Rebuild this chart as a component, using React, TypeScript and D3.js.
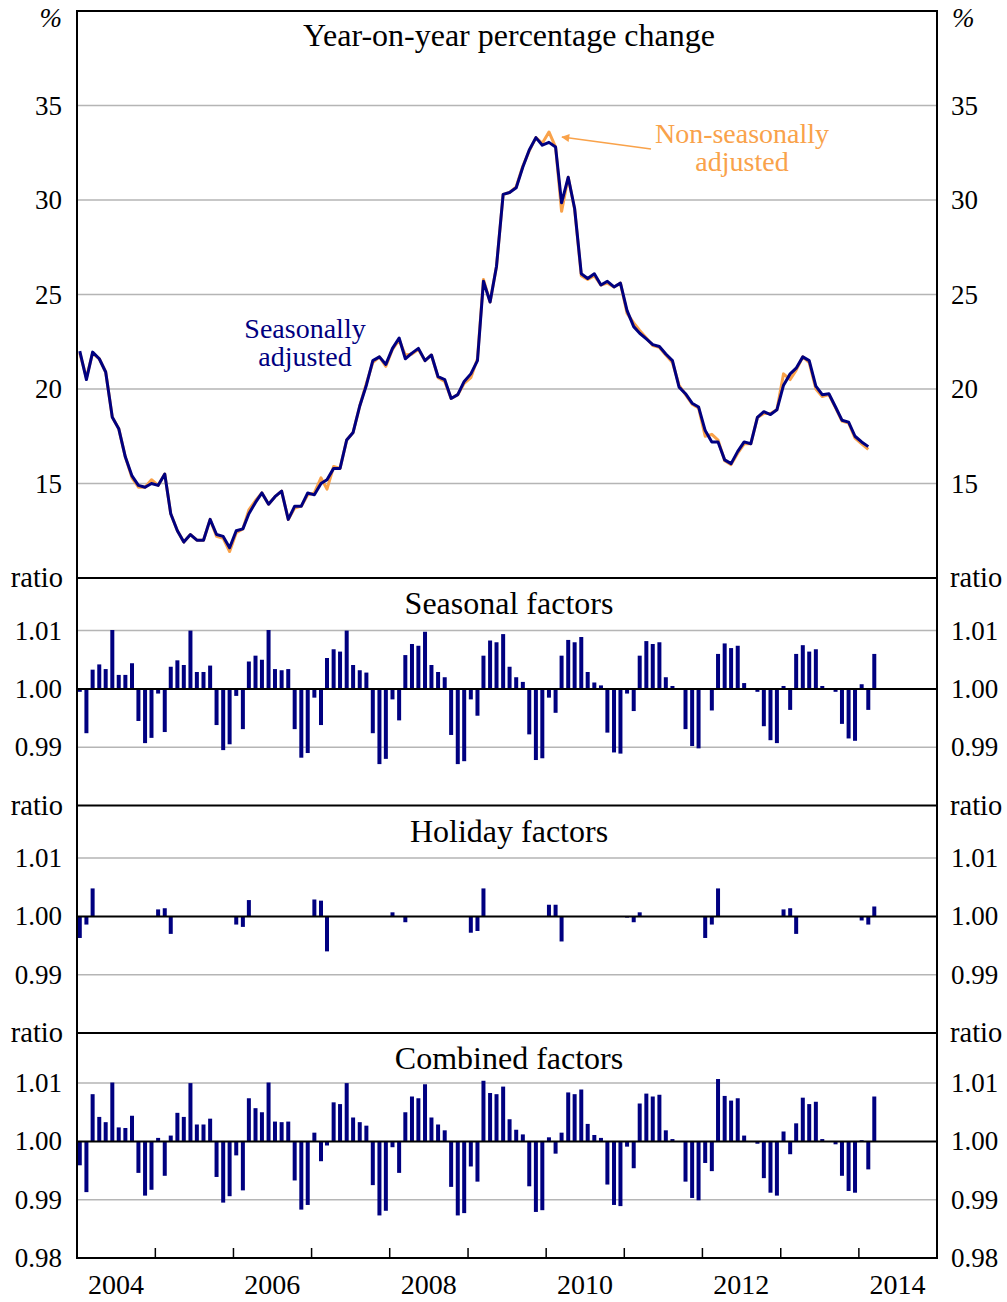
import { useRef, useEffect } from "react";
import * as d3 from "d3";

// monthly, Jan 2004 onwards
const yoySA = [
	22.0, 20.5, 21.95, 21.6, 20.9, 18.5, 17.9, 16.4, 15.4, 14.9, 14.8, 15.0,
	14.9, 15.5, 13.4, 12.5, 11.9, 12.3, 12.0, 12.0, 13.1, 12.3, 12.2, 11.6,
	12.5, 12.6, 13.4, 14.0, 14.5, 13.9, 14.3, 14.6, 13.1, 13.8, 13.8, 14.5,
	14.4, 15.0, 15.2, 15.8, 15.8, 17.3, 17.7, 19.1, 20.2, 21.5, 21.7, 21.3,
	22.15, 22.7, 21.6, 21.9, 22.15, 21.5, 21.8, 20.65, 20.5, 19.5, 19.7, 20.4,
	20.8, 21.5, 25.7, 24.6, 26.5, 30.3, 30.4, 30.65, 31.75, 32.65, 33.3, 32.9,
	33.05, 32.8, 29.85, 31.2, 29.55, 26.1, 25.85, 26.1, 25.5, 25.7, 25.4, 25.6,
	24.15, 23.3, 22.95, 22.65, 22.35, 22.25, 21.85, 21.5, 20.1, 19.75, 19.25, 19.05,
	17.8, 17.2, 17.2, 16.25, 16.05, 16.7, 17.2, 17.1, 18.5, 18.8, 18.65, 18.9,
	20.2, 20.8, 21.1, 21.7, 21.5, 20.15, 19.7, 19.75, 19.05, 18.35, 18.25, 17.5,
	17.2, 16.95,
];

const yoyNSA = [
	21.9, 20.6, 21.9, 21.6, 20.9, 18.5, 17.9, 16.4, 15.3, 14.8, 14.8, 15.2,
	14.9, 15.5, 13.4, 12.5, 11.9, 12.3, 12.0, 12.0, 13.1, 12.2, 12.1, 11.4,
	12.4, 12.6, 13.6, 14.1, 14.5, 13.9, 14.3, 14.6, 13.1, 13.7, 13.8, 14.4,
	14.5, 15.3, 14.7, 15.9, 15.8, 17.3, 17.7, 19.1, 20.3, 21.4, 21.7, 21.2,
	22.1, 22.6, 21.8, 21.85, 22.1, 21.5, 21.8, 20.6, 20.4, 19.5, 19.7, 20.3,
	20.6, 21.6, 25.8, 24.6, 26.5, 30.3, 30.4, 30.7, 31.8, 32.6, 33.3, 33.0,
	33.6, 32.8, 29.4, 31.2, 29.5, 26.0, 25.8, 26.0, 25.5, 25.6, 25.4, 25.6,
	24.0, 23.5, 23.1, 22.7, 22.3, 22.2, 21.8, 21.4, 20.2, 19.7, 19.2, 19.0,
	17.5, 17.6, 17.3, 16.2, 16.0, 16.6, 17.1, 17.1, 18.5, 18.7, 18.7, 18.9,
	20.8, 20.5, 21.0, 21.7, 21.4, 20.0, 19.6, 19.7, 19.0, 18.3, 18.2, 17.4,
	17.1, 16.8,
];

const seasonal = [
	0.9995, 0.9924, 1.0033, 1.0042, 1.0034, 1.0101, 1.0024, 1.0024, 1.0044, 0.9945, 0.9907, 0.9916,
	0.9992, 0.9926, 1.0038, 1.0049, 1.0041, 1.01, 1.0029, 1.0029, 1.004, 0.9938, 0.9895, 0.9905,
	0.9988, 0.9931, 1.0047, 1.0057, 1.005, 1.0101, 1.0034, 1.0032, 1.0034, 0.9931, 0.9882, 0.989,
	0.9985, 0.9938, 1.0053, 1.0068, 1.0064, 1.01, 1.0041, 1.0032, 1.0028, 0.9924, 0.9871, 0.988,
	0.9982, 0.9946, 1.0058, 1.0077, 1.0074, 1.0098, 1.0041, 1.0029, 1.002, 0.9921, 0.9871, 0.9876,
	0.9982, 0.9954, 1.0057, 1.0083, 1.008, 1.0094, 1.0038, 1.002, 1.0012, 0.9922, 0.9878, 0.9881,
	0.9985, 0.9959, 1.0057, 1.0084, 1.008, 1.0089, 1.0029, 1.0011, 1.0006, 0.9925, 0.9891, 0.9889,
	0.9992, 0.9962, 1.0057, 1.0082, 1.0077, 1.008, 1.002, 1.0005, 0.9999, 0.9931, 0.9902, 0.9898,
	1.0, 0.9963, 1.006, 1.0078, 1.007, 1.0074, 1.001, 1.0, 0.9995, 0.9936, 0.9912, 0.9907,
	1.0005, 0.9964, 1.006, 1.0075, 1.0064, 1.0068, 1.0005, 1.0, 0.9995, 0.994, 0.9915, 0.9911,
	1.0008, 0.9964, 1.006,
];

const holiday = [
	0.9963, 0.9986, 1.0048, 1, 1, 1, 1, 1, 1, 1, 1, 1,
	1.0012, 1.0014, 0.997, 1, 1, 1, 1, 1, 1, 1, 1, 1,
	0.9986, 0.9982, 1.0028, 1, 1, 1, 1, 1, 1, 1, 1, 1,
	1.0029, 1.0027, 0.994, 1, 1, 1, 1, 1, 1, 1, 1, 1,
	1.0007, 0.9999, 0.999, 1, 1, 1, 1, 1, 1, 1, 1, 1,
	0.9972, 0.9975, 1.0048, 1, 1, 1, 1, 1, 1, 1, 1, 1,
	1.002, 1.002, 0.9957, 1, 1, 1, 1, 1, 1, 1, 1, 1,
	0.9998, 0.999, 1.0007, 1, 1, 1, 1, 1, 1, 1, 1, 1,
	0.9963, 0.9986, 1.0048, 1, 1, 1, 1, 1, 1, 1, 1, 1,
	1.0012, 1.0014, 0.997, 1, 1, 1, 1, 1, 1, 1, 1, 1,
	0.9993, 0.9986, 1.0017,
];

const combined = [
	0.9959, 0.9913, 1.0081, 1.0042, 1.0033, 1.0101, 1.0024, 1.0023, 1.0044, 0.9946, 0.9907, 0.9917,
	1.0006, 0.9941, 1.001, 1.0049, 1.0042, 1.01, 1.0029, 1.0029, 1.0039, 0.9939, 0.9895, 0.9906,
	0.9976, 0.9916, 1.0074, 1.0057, 1.005, 1.0101, 1.0034, 1.0033, 1.0034, 0.9933, 0.9883, 0.9891,
	1.0015, 0.9966, 0.9993, 1.0067, 1.0064, 1.01, 1.0041, 1.0033, 1.0027, 0.9925, 0.9873, 0.9881,
	0.999, 0.9946, 1.005, 1.0077, 1.0074, 1.0098, 1.0041, 1.0029, 1.0019, 0.9922, 0.9873, 0.9877,
	0.9957, 0.9931, 1.0104, 1.0083, 1.0081, 1.0094, 1.0038, 1.002, 1.0012, 0.9923, 0.9879, 0.9882,
	1.0007, 0.9979, 1.0015, 1.0084, 1.0081, 1.0089, 1.003, 1.0011, 1.0006, 0.9926, 0.9891, 0.9889,
	0.9991, 0.9954, 1.0065, 1.0082, 1.0077, 1.008, 1.0019, 1.0004, 1.0, 0.9931, 0.9903, 0.9899,
	0.9963, 0.9949, 1.0107, 1.0078, 1.007, 1.0074, 1.001, 1.0, 0.9996, 0.9937, 0.9912, 0.9907,
	1.0017, 0.9978, 1.0031, 1.0075, 1.0064, 1.0068, 1.0004, 1.0, 0.9995, 0.9941, 0.9915, 0.9912,
	1.0002, 0.9952, 1.0077,
];

const topTicks = [15, 20, 25, 30, 35];
const ratioTicks = [0.99, 1.0, 1.01];
const yearLabels = [2004, 2006, 2008, 2010, 2012, 2014];

const NAVY = "#000080";
const ORANGE = "#f9a24a";
const GRID = "#b5b5b5";
const FONT = "'Liberation Serif', 'Times New Roman', serif";

export default function App() {
	const ref = useRef<SVGSVGElement>(null);

	useEffect(() => {
		document.body.style.margin = "0";
		const width = 1007;
		const height = 1302;
		const left = 77;
		const right = 937;
		const top = 11;

		const svg = d3.select(ref.current).attr("width", width).attr("height", height);
		svg.selectAll("*").remove();
		svg.style("font-family", FONT);

		const x = d3
			.scaleTime()
			.domain([new Date(2004, 0, 1), new Date(2015, 0, 1)])
			.range([left, right]);
		const monthDate = (i: number) => new Date(2004, i, 14);

		// ---- top panel ----
		const topBottom = 578;
		const y0 = d3.scaleLinear().domain([10, 40]).range([topBottom, top]);

		svg.append("g")
			.selectAll("line")
			.data(topTicks)
			.enter()
			.append("line")
			.attr("x1", left)
			.attr("x2", right)
			.attr("y1", (d) => y0(d))
			.attr("y2", (d) => y0(d))
			.attr("stroke", GRID)
			.attr("stroke-width", 1.5);

		const tickText = (g: any, vals: number[], scale: (v: number) => number, fmt: (v: number) => string) => {
			vals.forEach((v) => {
				g.append("text")
					.attr("x", 62)
					.attr("y", scale(v) + 9)
					.attr("text-anchor", "end")
					.attr("font-size", 27)
					.text(fmt(v));
				g.append("text")
					.attr("x", 951)
					.attr("y", scale(v) + 9)
					.attr("text-anchor", "start")
					.attr("font-size", 27)
					.text(fmt(v));
			});
		};

		const labels = svg.append("g");
		tickText(labels, topTicks, y0, (v) => String(v));
		labels.append("text").attr("x", 62).attr("y", 27).attr("text-anchor", "end").attr("font-size", 27).attr("font-style", "italic").text("%");
		labels.append("text").attr("x", 952).attr("y", 27).attr("text-anchor", "start").attr("font-size", 27).attr("font-style", "italic").text("%");

		svg.append("text")
			.attr("x", 509)
			.attr("y", 46)
			.attr("text-anchor", "middle")
			.attr("font-size", 32)
			.text("Year-on-year percentage change");

		const line = d3
			.line<number>()
			.x((d, i) => x(monthDate(i)))
			.y((d) => y0(d));

		svg.append("path")
			.attr("d", line(yoyNSA))
			.attr("fill", "none")
			.attr("stroke", ORANGE)
			.attr("stroke-width", 3)
			.attr("stroke-linejoin", "round");
		svg.append("path")
			.attr("d", line(yoySA))
			.attr("fill", "none")
			.attr("stroke", NAVY)
			.attr("stroke-width", 3)
			.attr("stroke-linejoin", "round");

		// annotations (one text per line)
		const noteLines = (lines: string[], cx: number, y1: number, color: string) => {
			lines.forEach((s, k) => {
				svg.append("text")
					.attr("x", cx)
					.attr("y", y1 + k * 28)
					.attr("text-anchor", "middle")
					.attr("font-size", 28)
					.attr("fill", color)
					.text(s);
			});
		};
		noteLines(["Seasonally", "adjusted"], 305, 338, NAVY);
		noteLines(["Non-seasonally", "adjusted"], 742, 143, ORANGE);

		svg.append("defs")
			.append("marker")
			.attr("id", "arrowHead")
			.attr("viewBox", "0 0 10 10")
			.attr("refX", 9)
			.attr("refY", 5)
			.attr("markerWidth", 9)
			.attr("markerHeight", 8)
			.attr("markerUnits", "userSpaceOnUse")
			.attr("orient", "auto")
			.append("path")
			.attr("d", "M0,0 L10,5 L0,10 z")
			.attr("fill", ORANGE);
		svg.append("line")
			.attr("x1", 651)
			.attr("y1", 149)
			.attr("x2", 562)
			.attr("y2", 137)
			.attr("stroke", ORANGE)
			.attr("stroke-width", 1.5)
			.attr("marker-end", "url(#arrowHead)");

		// ---- factor panels ----
		const panels = [
			{ title: "Seasonal factors", values: seasonal, bottom: 805.5 },
			{ title: "Holiday factors", values: holiday, bottom: 1033 },
			{ title: "Combined factors", values: combined, bottom: 1258 },
		];
		const perHundredth = 58.3;

		panels.forEach((p, pi) => {
			const y = d3
				.scaleLinear()
				.domain([0.98, 1.02])
				.range([p.bottom, p.bottom - perHundredth * 4]);
			const panelTop = pi === 0 ? topBottom : panels[pi - 1].bottom;
			const g = svg.append("g");

			g.selectAll("line.grid")
				.data([0.99, 1.01])
				.enter()
				.append("line")
				.attr("x1", left)
				.attr("x2", right)
				.attr("y1", (d) => y(d))
				.attr("y2", (d) => y(d))
				.attr("stroke", GRID)
				.attr("stroke-width", 1.5);

			g.selectAll("rect")
				.data(p.values)
				.enter()
				.append("rect")
				.attr("x", (d, i) => x(monthDate(i)) - 2)
				.attr("width", 4)
				.attr("y", (d) => Math.min(y(d), y(1)))
				.attr("height", (d) => Math.abs(y(d) - y(1)))
				.attr("fill", NAVY);

			g.append("line")
				.attr("x1", left)
				.attr("x2", right)
				.attr("y1", y(1))
				.attr("y2", y(1))
				.attr("stroke", "#000")
				.attr("stroke-width", 2);

			const ticks = pi === panels.length - 1 ? [0.98, ...ratioTicks] : ratioTicks;
			tickText(g, ticks, y, (v) => v.toFixed(2));

			g.append("text").attr("x", 63).attr("y", panelTop + 9).attr("text-anchor", "end").attr("font-size", 28.5).text("ratio");
			g.append("text").attr("x", 950).attr("y", panelTop + 9).attr("text-anchor", "start").attr("font-size", 28.5).text("ratio");

			g.append("text")
				.attr("x", 509)
				.attr("y", panelTop + 36)
				.attr("text-anchor", "middle")
				.attr("font-size", 32)
				.text(p.title);

			// separator line on top of panel
			g.append("line")
				.attr("x1", left)
				.attr("x2", right)
				.attr("y1", panelTop)
				.attr("y2", panelTop)
				.attr("stroke", "#000")
				.attr("stroke-width", 2);
		});

		// ---- frame & x axis ----
		const bottom = 1258;
		svg.append("rect")
			.attr("x", left)
			.attr("y", top)
			.attr("width", right - left)
			.attr("height", bottom - top)
			.attr("fill", "none")
			.attr("stroke", "#000")
			.attr("stroke-width", 2);

		svg.append("g")
			.selectAll("line")
			.data(d3.timeYear.range(new Date(2005, 0, 1), new Date(2015, 0, 1)))
			.enter()
			.append("line")
			.attr("x1", (d) => x(d))
			.attr("x2", (d) => x(d))
			.attr("y1", bottom)
			.attr("y2", bottom - 10)
			.attr("stroke", "#000")
			.attr("stroke-width", 1.5);

		svg.append("g")
			.selectAll("text")
			.data(yearLabels)
			.enter()
			.append("text")
			.attr("x", (d) => x(new Date(d, 6, 1)))
			.attr("y", 1294)
			.attr("text-anchor", "middle")
			.attr("font-size", 28)
			.text((d) => String(d));
	}, []);

	return <svg ref={ref} style={{ display: "block" }} />;
}
